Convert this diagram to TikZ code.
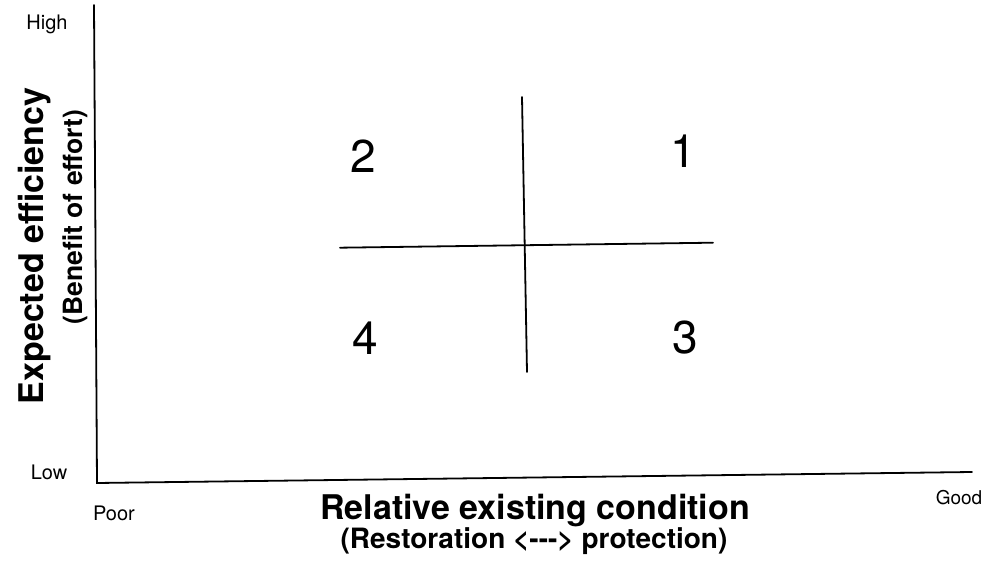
\documentclass[tikz,border=0pt]{standalone}
\usepackage{fontspec}
\setmainfont{TeX Gyre Heros}
\begin{document}
\begin{tikzpicture}[x=1pt,y=-1pt,
  ax/.style={line width=1.8pt, line cap=round, line join=miter},
  lbl/.style={inner sep=0pt, anchor=base},
  small/.style={lbl, font=\fontsize{20}{23}\selectfont},
  num/.style={lbl, font=\fontsize{46}{50}\selectfont},
  big/.style={lbl, font=\fontsize{34}{38}\selectfont\bfseries},
  sub/.style={lbl, font=\fontsize{28}{32}\selectfont\bfseries}]
\useasboundingbox (0,0) rectangle (983,569);
% axes
\coordinate (ytop) at (94,5);
\coordinate (origin) at (97,483);
\coordinate (xend) at (972,472);
\draw[ax] (ytop) -- (origin) -- (xend);
% quadrant cross
\coordinate (vtop) at (522,97);
\coordinate (vbot) at (527,372);
\coordinate (hleft) at (340,247.7);
\coordinate (hright) at (713,242.7);
\draw[ax] (vtop) -- (vbot);
\draw[ax] (hleft) -- (hright);
% quadrant numbers
\node[num] (q2) at (363,172.3) {2};
\node[num] (q1) at (683,167.7) {1};
\node[num] (q4) at (365,354.3) {4};
\node[num] (q3) at (685,353.3) {3};
% axis end labels
\node[small] (high) at (47,30) {High};
\node[small] (low) at (49,479.3) {Low};
\node[small] (poor) at (114,520) {Poor};
\node[small, font=\fontsize{19}{22}\selectfont] (good) at (959,504) {Good};
% axis titles
\node[big, rotate=90] (ytitle) at (43,246) {Expected efficiency};
\node[sub, font=\fontsize{26.5}{30}\selectfont\bfseries, rotate=90] (ysub) at (82,217) {(Benefit of effort)};
\node[big] (xtitle) at (535,519) {Relative existing condition};
\node[sub] (xsub) at (534,548) {(Restoration <-{}-{}-> protection)};
\end{tikzpicture}
\end{document}
